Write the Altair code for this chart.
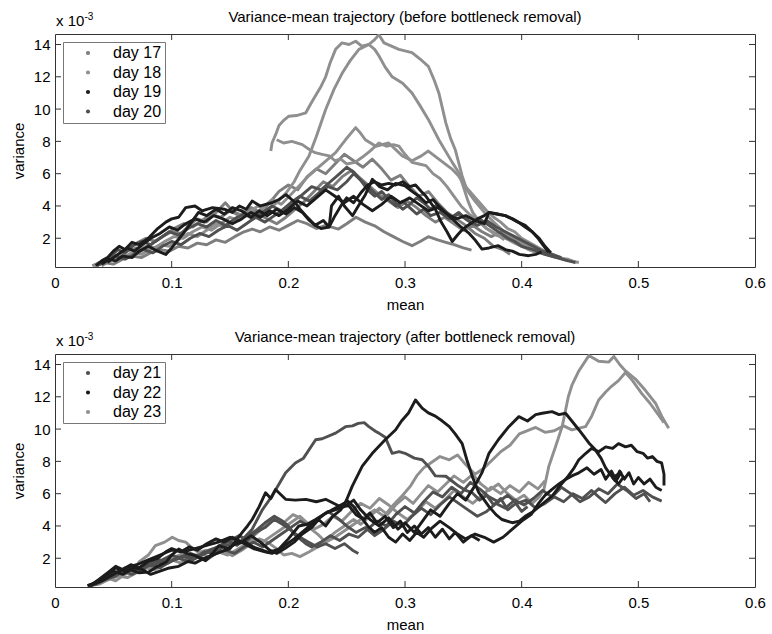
import altair as alt
import pandas as pd

FONT = "Liberation Sans"

# ---------------- axes / labels ----------------
x_tick_values = [0, 0.1, 0.2, 0.3, 0.4, 0.5, 0.6]
y_tick_values = [2, 4, 6, 8, 10, 12, 14]
inner_x_ticks = [0.1, 0.2, 0.3, 0.4, 0.5]
scale_note = ["x 10", "-3"]

titles = ["Variance-mean trajectory (before bottleneck removal)",
          "Variance-mean trajectory (after bottleneck removal)"]

days_before = ["day 17", "day 18", "day 19", "day 20"]
colors_before = ["#7e7e7e", "#8f8f8f", "#1c1c1c", "#505050"]
days_after = ["day 21", "day 22", "day 23"]
colors_after = ["#505050", "#1c1c1c", "#8f8f8f"]

# ---------------- trajectories (mean, variance x 1e-3) : before ----------------
t17a = [(0.032,0.3),(0.038,0.5),(0.045,0.6),(0.05,0.9),(0.056,0.8),(0.062,1.2),(0.07,1.4),(0.078,1.3),(0.085,1.8),(0.092,2.1),(0.1,2.4),(0.108,2.3),(0.115,2.8),(0.122,3.2),(0.13,3.0),(0.138,3.6),(0.146,4.2),(0.152,3.7),(0.16,3.4),(0.168,3.9),(0.176,3.6),(0.184,4.2),(0.192,4.9),(0.2,5.3),(0.208,5.0),(0.216,5.8),(0.224,6.3),(0.232,6.0),(0.24,6.6),(0.248,7.2),(0.256,6.8),(0.264,6.4),(0.272,6.9),(0.28,6.3),(0.288,5.6),(0.296,5.9),(0.304,5.2),(0.312,4.6),(0.32,4.9),(0.328,4.2),(0.336,3.6),(0.344,3.2),(0.352,2.8),(0.36,2.3),(0.368,2.0),(0.376,1.5),(0.384,1.3),(0.39,1.0)]
t17b = [(0.034,0.3),(0.042,0.5),(0.05,0.4),(0.058,0.7),(0.066,0.9),(0.074,0.8),(0.082,1.1),(0.09,1.3),(0.098,1.2),(0.106,1.5),(0.114,1.4),(0.122,1.7),(0.13,1.6),(0.138,1.9),(0.146,1.75),(0.154,2.1),(0.162,2.4),(0.169,2.57),(0.176,2.4),(0.184,2.7),(0.192,2.5),(0.2,2.8),(0.208,3.1),(0.216,2.9),(0.224,2.6),(0.232,2.8),(0.243,2.57),(0.25,2.9),(0.258,3.3),(0.266,3.0),(0.274,2.77),(0.282,2.4),(0.29,2.1),(0.298,1.8),(0.306,1.54),(0.313,1.8),(0.32,2.1),(0.328,1.9),(0.335,1.75),(0.342,1.6),(0.35,1.4),(0.357,1.27)]
t17c = [(0.04,0.3),(0.047,0.6),(0.054,0.9),(0.062,1.3),(0.07,1.7),(0.078,2.0),(0.086,1.8),(0.094,2.2),(0.102,2.6),(0.11,2.9),(0.118,2.7),(0.126,3.1),(0.134,3.5),(0.142,3.3),(0.15,3.7),(0.158,3.4),(0.166,3.8),(0.174,3.5),(0.182,3.2),(0.19,2.9),(0.198,3.3),(0.206,3.8),(0.214,4.3),(0.222,4.9),(0.23,5.5),(0.238,5.2),(0.246,5.8),(0.254,6.2),(0.262,5.7),(0.27,5.2),(0.278,4.7),(0.286,4.3),(0.294,3.9),(0.302,4.3),(0.31,3.9),(0.318,3.4),(0.326,3.0),(0.334,3.3),(0.342,2.9),(0.35,2.5),(0.358,2.8),(0.366,2.4),(0.374,2.1),(0.382,2.4),(0.39,2.0),(0.398,1.7),(0.406,1.3),(0.414,1.1)]
t18a = [(0.185,7.4),(0.186,7.9),(0.189,8.4),(0.192,8.98),(0.196,9.3),(0.2005,9.56),(0.207,9.6),(0.215,9.77),(0.219,10.3),(0.223,10.8),(0.228,11.4),(0.232,12.0),(0.236,12.9),(0.2405,13.7),(0.246,14.1),(0.252,14.0),(0.2577,14.2),(0.263,13.9),(0.269,14.0),(0.274,13.7),(0.2776,13.3),(0.283,12.6),(0.289,12.0),(0.298,11.6),(0.306,11.0),(0.313,10.2),(0.32,9.36),(0.329,8.1),(0.3405,6.7),(0.346,6.07),(0.35,5.2),(0.354,4.3),(0.358,3.6),(0.364,3.0),(0.37,2.6),(0.378,2.3),(0.385,1.9)]
t18b = [(0.033,0.3),(0.04,0.5),(0.047,0.7),(0.055,1.0),(0.062,0.9),(0.07,1.2),(0.078,1.5),(0.086,1.4),(0.094,1.8),(0.102,2.1),(0.11,2.0),(0.118,2.4),(0.126,2.7),(0.134,2.5),(0.142,2.9),(0.15,3.3),(0.158,3.1),(0.166,3.6),(0.174,4.0),(0.182,3.7),(0.19,4.2),(0.198,4.8),(0.205,5.5),(0.21,6.2),(0.2177,7.1),(0.224,8.3),(0.232,9.97),(0.239,11.2),(0.246,12.2),(0.253,13.0),(0.2605,13.7),(0.269,14.0),(0.274,14.3),(0.2776,14.6),(0.282,14.1),(0.2948,13.7),(0.306,13.5),(0.313,13.1),(0.32,12.65),(0.325,11.8),(0.329,11.0),(0.335,9.15),(0.339,8.2),(0.343,7.5),(0.349,5.86),(0.353,5.0),(0.36,4.3),(0.368,3.6),(0.376,3.0),(0.385,2.4),(0.394,2.0),(0.404,1.6),(0.414,1.3),(0.425,1.0),(0.435,0.7),(0.442,0.6),(0.449,0.5)]
t18c = [(0.19,8.1),(0.196,7.9),(0.203,8.0),(0.212,7.8),(0.218,7.5),(0.223,7.3),(0.229,7.2),(0.235,7.1),(0.24,6.8),(0.245,6.9),(0.25,6.6),(0.257,6.7),(0.263,7.0),(0.27,7.4),(0.2776,7.9),(0.284,7.7),(0.29,7.8),(0.2948,7.7),(0.3,7.2),(0.306,6.7),(0.312,6.6),(0.318,6.5),(0.324,6.0),(0.33,5.7),(0.336,5.2),(0.342,4.6),(0.348,4.0),(0.355,3.5),(0.362,3.1),(0.37,2.6),(0.378,2.2),(0.386,2.0),(0.394,1.7),(0.4,1.5),(0.41,1.2),(0.42,1.0),(0.43,0.8),(0.44,0.7),(0.447,0.5)]
t18d = [(0.036,0.3),(0.043,0.6),(0.05,0.9),(0.058,0.8),(0.066,1.1),(0.074,1.0),(0.082,1.3),(0.09,1.6),(0.098,1.5),(0.106,1.9),(0.114,2.3),(0.122,2.1),(0.13,2.5),(0.138,2.9),(0.146,2.7),(0.154,3.2),(0.162,3.6),(0.17,3.4),(0.178,3.9),(0.186,4.4),(0.194,4.1),(0.202,4.7),(0.21,5.3),(0.218,5.9),(0.226,6.4),(0.234,6.9),(0.2405,7.3),(0.249,8.1),(0.2577,8.85),(0.262,8.5),(0.266,8.1),(0.275,7.7),(0.286,7.9),(0.2977,7.1),(0.306,6.8),(0.314,7.1),(0.32,7.4),(0.329,6.9),(0.34,6.3),(0.346,5.85),(0.352,5.2),(0.358,4.7),(0.364,4.2),(0.37,3.7),(0.376,3.3),(0.382,3.0),(0.388,2.6),(0.394,2.4),(0.4,2.0),(0.41,1.6),(0.42,1.2),(0.43,0.9),(0.44,0.6)]
t19a = [(0.035,0.3),(0.04,0.6),(0.045,0.8),(0.05,1.2),(0.055,1.5),(0.06,1.3),(0.066,1.75),(0.072,1.6),(0.08,2.0),(0.088,2.6),(0.095,3.0),(0.1,3.2),(0.106,3.3),(0.112,3.9),(0.12,4.0),(0.126,3.7),(0.135,3.9),(0.145,3.8),(0.152,3.6),(0.158,4.0),(0.164,3.8),(0.169,4.3),(0.176,4.0),(0.186,4.2),(0.192,4.4),(0.198,4.7),(0.206,4.2),(0.21,3.8),(0.215,3.4),(0.223,2.8),(0.23,3.1),(0.235,2.7),(0.24,3.4),(0.245,4.0),(0.25,4.5),(0.256,4.2),(0.262,4.8),(0.268,5.3),(0.274,5.5),(0.28,5.3),(0.286,5.4),(0.292,5.3),(0.298,5.5),(0.304,5.2),(0.309,5.3),(0.314,4.9),(0.318,4.6),(0.322,4.2),(0.326,3.8),(0.331,3.0),(0.336,2.4),(0.3405,1.8),(0.345,2.2),(0.35,2.6),(0.356,2.9),(0.362,3.2),(0.368,3.4),(0.372,3.6),(0.378,3.5),(0.386,3.4),(0.392,3.2),(0.397,3.0),(0.403,2.7),(0.409,2.4),(0.414,2.0),(0.418,1.6),(0.423,1.15)]
t19b = [(0.04,0.4),(0.046,0.7),(0.052,0.6),(0.058,0.9),(0.066,0.8),(0.072,1.2),(0.08,1.5),(0.088,1.2),(0.095,1.0),(0.1,1.4),(0.106,1.95),(0.11,2.3),(0.115,2.8),(0.123,3.6),(0.13,3.4),(0.138,3.8),(0.145,3.5),(0.152,3.9),(0.16,3.7),(0.168,3.3),(0.175,3.7),(0.182,3.4),(0.19,3.8),(0.198,3.5),(0.205,3.9),(0.212,3.6),(0.218,3.1),(0.223,2.8),(0.228,2.6),(0.235,2.7),(0.237,4.0),(0.243,4.6),(0.248,4.0),(0.255,3.4),(0.26,4.0),(0.266,4.7),(0.272,5.65),(0.278,5.2),(0.285,5.0),(0.292,5.4),(0.3,5.25),(0.306,4.9),(0.312,4.6),(0.318,4.2),(0.324,4.4),(0.33,3.9),(0.336,3.5),(0.342,3.1),(0.348,2.7),(0.355,2.3),(0.36,1.9),(0.366,1.33),(0.372,1.4),(0.38,1.54),(0.386,1.3),(0.392,1.2),(0.398,1.0),(0.406,0.92),(0.412,1.0),(0.417,1.15)]
t19c = [(0.045,0.5),(0.05,0.8),(0.056,1.1),(0.062,1.4),(0.068,1.2),(0.075,1.6),(0.082,2.0),(0.09,2.3),(0.098,2.7),(0.105,2.5),(0.112,2.9),(0.12,3.2),(0.128,3.0),(0.136,3.4),(0.144,3.2),(0.152,2.9),(0.16,3.2),(0.168,3.6),(0.176,3.3),(0.184,3.7),(0.192,3.4),(0.2,3.8),(0.208,4.3),(0.216,4.0),(0.224,4.5),(0.232,5.0),(0.24,4.6),(0.248,4.2),(0.256,4.6),(0.264,4.1),(0.272,3.7),(0.28,4.1),(0.288,4.6),(0.296,4.2),(0.304,4.5),(0.312,4.1),(0.32,3.7),(0.328,3.9),(0.336,3.5),(0.344,3.2),(0.352,3.4),(0.36,3.1),(0.368,2.9),(0.372,3.6),(0.38,3.5),(0.386,3.4),(0.392,3.2),(0.397,3.0),(0.403,2.8),(0.409,2.4),(0.415,2.0),(0.42,1.5),(0.425,1.1)]
t20a = [(0.036,0.3),(0.042,0.5),(0.048,0.9),(0.054,1.3),(0.06,1.1),(0.066,1.5),(0.074,1.8),(0.082,1.6),(0.09,2.0),(0.098,2.4),(0.106,2.2),(0.114,2.6),(0.122,2.9),(0.13,2.7),(0.138,3.1),(0.146,2.8),(0.154,3.2),(0.162,3.5),(0.17,3.2),(0.178,3.6),(0.186,4.0),(0.194,3.7),(0.202,4.2),(0.21,4.6),(0.218,4.3),(0.226,4.8),(0.234,5.2),(0.242,5.0),(0.25,5.5),(0.256,6.0),(0.262,5.6),(0.268,5.0),(0.274,4.6),(0.28,4.9),(0.286,4.4),(0.292,4.0),(0.298,4.3),(0.304,3.9),(0.31,3.5),(0.316,3.8),(0.322,3.4),(0.33,3.6),(0.338,3.2),(0.346,3.5),(0.354,3.1),(0.362,2.8),(0.37,3.1),(0.378,2.7),(0.386,2.4),(0.394,2.1),(0.402,1.8),(0.41,1.5),(0.418,1.2),(0.426,1.0),(0.434,0.8)]
t20b = [(0.038,0.4),(0.045,0.6),(0.052,0.9),(0.06,0.7),(0.068,1.0),(0.076,1.3),(0.084,1.1),(0.092,1.5),(0.1,1.8),(0.108,1.6),(0.116,2.0),(0.124,2.3),(0.132,2.1),(0.14,2.5),(0.148,2.8),(0.156,2.5),(0.164,2.9),(0.172,3.3),(0.18,3.0),(0.188,3.4),(0.196,3.8),(0.204,4.2),(0.212,4.7),(0.22,5.2),(0.228,5.0),(0.236,5.5),(0.244,6.0),(0.25,6.4),(0.256,6.1),(0.262,5.6),(0.268,5.2),(0.274,4.8),(0.28,4.4),(0.286,4.7),(0.292,4.2),(0.298,3.8),(0.304,4.1),(0.31,4.5),(0.316,4.2),(0.322,3.8),(0.328,4.1),(0.334,3.7),(0.34,3.3),(0.346,3.6),(0.352,3.2),(0.358,2.9),(0.364,3.2),(0.37,2.9),(0.376,2.6),(0.382,2.3),(0.388,2.0),(0.394,1.8),(0.4,1.5),(0.41,1.3),(0.42,1.0),(0.43,0.8),(0.44,0.6),(0.446,0.5)]

# ---------------- trajectories : after ----------------
b21a = [(0.03,0.3),(0.038,0.6),(0.046,0.9),(0.054,1.2),(0.06,1.1),(0.068,1.5),(0.075,1.3),(0.082,1.7),(0.09,1.9),(0.097,1.7),(0.104,2.0),(0.112,2.2),(0.12,2.0),(0.128,2.4),(0.136,2.3),(0.144,2.7),(0.152,2.9),(0.16,3.1),(0.169,3.8),(0.1777,5.0),(0.186,5.85),(0.1977,7.3),(0.206,7.9),(0.213,8.2),(0.2234,9.34),(0.229,9.4),(0.2405,9.75),(0.249,10.15),(0.255,10.2),(0.26,10.35),(0.265,10.4),(0.269,10.15),(0.275,9.85),(0.2776,9.75),(0.283,9.5),(0.289,8.5),(0.295,8.6),(0.3,8.5),(0.308,8.2),(0.3147,8.1),(0.32,7.7),(0.326,7.1),(0.335,7.08),(0.34,6.8),(0.346,6.47),(0.352,6.2),(0.3576,6.06),(0.364,5.6),(0.37,5.9),(0.376,5.3),(0.382,5.7),(0.388,5.0),(0.395,5.4),(0.4,4.9),(0.405,5.2)]
b21b = [(0.028,0.3),(0.036,0.5),(0.044,0.7),(0.052,0.9),(0.06,1.3),(0.068,1.2),(0.076,1.6),(0.084,1.5),(0.092,1.9),(0.1,2.2),(0.108,2.0),(0.116,2.3),(0.124,2.1),(0.132,2.5),(0.14,2.7),(0.148,3.1),(0.156,2.8),(0.164,3.3),(0.172,3.7),(0.18,4.2),(0.188,4.6),(0.195,4.3),(0.2,4.0),(0.205,3.5),(0.21,3.2),(0.215,2.9),(0.22,2.7),(0.228,3.0),(0.236,3.4),(0.244,3.1),(0.252,3.5),(0.26,3.3),(0.268,3.8),(0.276,4.3),(0.284,4.0),(0.292,4.7),(0.3,5.2),(0.308,4.8),(0.316,5.5),(0.324,6.1),(0.332,5.8),(0.34,6.4),(0.348,6.0),(0.356,6.7),(0.364,6.3),(0.372,5.8),(0.38,5.5),(0.388,5.9),(0.396,5.4),(0.404,5.6),(0.412,5.1),(0.42,5.4),(0.428,5.8),(0.436,5.5),(0.444,6.0),(0.452,5.7),(0.46,6.2),(0.466,5.8),(0.472,5.45),(0.48,6.0),(0.488,6.4),(0.496,5.9),(0.504,6.2),(0.512,5.8),(0.52,5.54)]
b21c = [(0.03,0.3),(0.038,0.5),(0.046,0.8),(0.054,1.1),(0.062,1.4),(0.07,1.2),(0.078,1.5),(0.086,1.8),(0.094,1.6),(0.102,1.9),(0.11,2.1),(0.118,1.9),(0.126,2.2),(0.134,2.5),(0.142,2.8),(0.15,3.1),(0.158,3.4),(0.165,3.1),(0.172,3.6),(0.18,3.9),(0.188,4.4),(0.195,4.1),(0.203,3.7),(0.21,3.3),(0.217,3.0),(0.225,2.7),(0.232,2.9),(0.24,2.6),(0.248,2.9),(0.255,2.5),(0.26,2.3)]
b21d = [(0.028,0.3),(0.035,0.4),(0.043,0.7),(0.05,0.9),(0.058,1.2),(0.066,1.0),(0.074,1.3),(0.082,1.6),(0.09,1.4),(0.098,1.8),(0.106,2.0),(0.114,1.8),(0.122,2.1),(0.13,1.9),(0.138,2.3),(0.146,2.5),(0.154,2.3),(0.162,2.7),(0.17,3.0),(0.178,2.7),(0.186,3.1),(0.194,3.5),(0.202,3.9),(0.21,4.3),(0.218,4.0),(0.226,4.5),(0.234,4.9),(0.242,4.5),(0.25,4.0),(0.258,3.6),(0.266,3.9),(0.274,3.4),(0.282,3.8),(0.29,4.3),(0.298,4.0),(0.306,4.6),(0.314,5.1),(0.322,4.7),(0.33,5.3),(0.338,5.8),(0.346,5.4),(0.354,5.0),(0.362,4.6),(0.37,4.9),(0.378,5.4),(0.386,5.1),(0.394,5.6),(0.402,5.3),(0.41,5.7),(0.418,6.2),(0.426,5.8),(0.434,6.4),(0.442,6.0),(0.45,5.5),(0.458,5.8),(0.466,6.3),(0.474,6.0),(0.482,6.6),(0.49,6.2),(0.498,5.7),(0.505,6.0),(0.51,5.5)]
b22a = [(0.028,0.3),(0.035,0.5),(0.042,0.9),(0.05,1.2),(0.058,1.0),(0.065,1.3),(0.072,1.1),(0.08,1.14),(0.088,1.5),(0.095,1.75),(0.1,2.2),(0.106,2.57),(0.113,2.3),(0.12,2.16),(0.129,1.85),(0.135,2.3),(0.1405,2.78),(0.148,2.6),(0.155,2.9),(0.163,3.0),(0.17,2.7),(0.175,2.57),(0.183,2.37),(0.192,2.57),(0.2,3.2),(0.209,4.0),(0.216,4.1),(0.2234,4.4),(0.23,4.7),(0.2376,5.0),(0.249,5.45),(0.2548,6.47),(0.2634,7.7),(0.272,8.5),(0.283,9.34),(0.292,9.96),(0.297,10.5),(0.303,11.0),(0.309,11.8),(0.3147,11.3),(0.32,11.0),(0.326,10.8),(0.332,10.5),(0.338,10.15),(0.343,9.7),(0.349,9.1),(0.353,8.1),(0.358,7.0),(0.363,6.1),(0.368,5.6),(0.372,5.2),(0.378,4.7),(0.383,4.4),(0.392,4.2),(0.398,4.3),(0.403,4.6),(0.41,4.9),(0.415,5.2),(0.42,5.5),(0.426,5.85),(0.433,6.5),(0.44,7.1),(0.445,7.6),(0.449,8.1),(0.455,8.5),(0.46,8.8),(0.466,8.6),(0.472,8.9),(0.478,8.8),(0.483,9.1),(0.489,8.9),(0.494,9.0),(0.499,8.6),(0.504,8.5),(0.508,8.2),(0.512,8.3),(0.516,8.0),(0.52,7.9),(0.522,7.2),(0.522,6.5)]
b22b = [(0.03,0.3),(0.037,0.6),(0.045,1.0),(0.052,1.4),(0.06,1.2),(0.068,1.4),(0.075,1.3),(0.082,1.0),(0.09,1.2),(0.098,1.4),(0.106,1.5),(0.114,1.8),(0.12,1.7),(0.128,2.0),(0.135,2.2),(0.142,2.4),(0.15,2.6),(0.1605,3.6),(0.165,4.0),(0.169,4.4),(0.175,5.2),(0.1805,6.06),(0.185,5.7),(0.189,6.26),(0.1977,5.65),(0.206,5.6),(0.215,5.65),(0.224,5.5),(0.232,5.65),(0.2434,5.24),(0.252,5.24),(0.258,4.7),(0.265,4.4),(0.27,4.8),(0.276,4.2),(0.283,4.6),(0.29,3.9),(0.296,4.3),(0.302,3.6),(0.308,4.0),(0.314,3.5),(0.32,3.9),(0.326,3.3),(0.332,3.8),(0.338,3.2),(0.343,3.6),(0.35,3.0),(0.357,3.4),(0.364,3.1)]
b22c = [(0.03,0.3),(0.04,0.6),(0.05,1.0),(0.06,1.4),(0.07,1.6),(0.08,1.9),(0.09,2.2),(0.1,2.5),(0.11,2.4),(0.12,2.6),(0.13,2.8),(0.14,3.0),(0.15,3.3),(0.16,3.0),(0.17,2.6),(0.18,2.4),(0.186,2.3),(0.195,2.7),(0.205,3.2),(0.215,3.8),(0.225,4.4),(0.232,4.8),(0.24,5.0),(0.248,5.2),(0.256,5.6),(0.262,5.0),(0.27,4.4),(0.278,4.0),(0.286,4.5),(0.294,3.8),(0.3,4.2),(0.308,3.6),(0.315,4.3),(0.322,5.0),(0.33,4.6),(0.338,5.4),(0.345,6.0),(0.352,5.6),(0.36,6.5),(0.366,7.3),(0.372,8.5),(0.38,9.34),(0.389,10.15),(0.3976,10.77),(0.405,10.5),(0.412,10.9),(0.4176,10.98),(0.426,11.08),(0.432,10.9),(0.4376,10.98),(0.443,10.5),(0.449,9.96),(0.4576,9.14),(0.463,8.73),(0.468,8.2),(0.472,7.6),(0.476,7.2),(0.48,6.8),(0.484,7.4),(0.488,6.9),(0.492,7.3),(0.496,6.6),(0.5,7.0),(0.505,6.6),(0.51,6.9),(0.515,6.4),(0.52,6.2)]
b22d = [(0.03,0.3),(0.038,0.7),(0.045,1.1),(0.052,1.5),(0.058,1.3),(0.065,1.6),(0.072,1.4),(0.08,1.8),(0.088,2.0),(0.095,2.4),(0.1,2.6),(0.108,2.4),(0.115,2.7),(0.122,2.5),(0.13,2.9),(0.138,3.2),(0.145,3.0),(0.152,3.3),(0.16,3.0),(0.168,3.4),(0.176,3.0),(0.184,2.5),(0.19,2.3),(0.197,2.6),(0.205,3.0),(0.212,3.5),(0.22,3.9),(0.226,4.4),(0.232,4.0),(0.238,4.6),(0.245,5.0),(0.25,5.6),(0.256,5.2),(0.262,4.6),(0.268,4.0),(0.274,3.6),(0.28,3.9),(0.286,3.3),(0.292,3.0),(0.298,3.5),(0.304,3.1),(0.31,3.6),(0.316,3.3),(0.322,3.8),(0.33,4.3),(0.338,3.9),(0.345,3.5),(0.352,3.2),(0.36,3.5),(0.368,3.3),(0.376,3.0),(0.384,3.3),(0.392,3.8),(0.4,4.3),(0.408,4.7),(0.415,5.45),(0.42,5.9),(0.426,6.26),(0.432,6.6),(0.4376,6.88),(0.443,7.1),(0.449,7.29),(0.456,7.6),(0.462,7.2),(0.468,7.5),(0.472,6.9),(0.477,7.4),(0.481,6.8),(0.485,7.3),(0.478,7.0),(0.483,6.6),(0.488,7.1)]
b23a = [(0.028,0.3),(0.036,0.4),(0.044,0.8),(0.052,0.6),(0.06,1.0),(0.068,1.3),(0.072,1.77),(0.08,2.2),(0.086,2.78),(0.094,3.0),(0.1005,3.3),(0.106,3.1),(0.112,3.0),(0.118,2.6),(0.123,2.37),(0.13,2.5),(0.138,2.3),(0.145,2.4),(0.152,2.16),(0.16,2.5),(0.168,2.9),(0.175,3.2),(0.182,3.0),(0.19,2.6),(0.196,2.2),(0.203,2.3),(0.21,2.1),(0.218,2.4),(0.225,2.7),(0.232,3.1),(0.24,3.6),(0.248,4.0),(0.256,4.4),(0.262,4.1),(0.27,4.6),(0.278,5.1),(0.285,4.7),(0.292,5.3),(0.3,5.8),(0.307,5.4),(0.314,6.0),(0.32,6.5),(0.328,6.1),(0.335,6.6),(0.342,7.1),(0.35,6.7),(0.358,7.2),(0.365,6.6),(0.372,6.2),(0.38,6.6),(0.388,6.0),(0.395,5.6),(0.402,5.9),(0.409,5.4),(0.415,5.8),(0.419,6.25),(0.4233,7.7),(0.429,8.9),(0.4347,10.15),(0.44,12.0),(0.443,12.7),(0.449,13.6),(0.4576,14.55),(0.466,14.2),(0.4747,14.15),(0.479,14.5),(0.484,14.0),(0.489,13.6),(0.4975,13.1),(0.506,12.4),(0.5147,11.6),(0.52,10.8),(0.526,10.05)]
b23b = [(0.03,0.3),(0.04,0.5),(0.05,0.8),(0.06,1.1),(0.07,1.3),(0.08,1.6),(0.09,1.8),(0.1,2.0),(0.11,2.3),(0.12,2.1),(0.13,2.4),(0.14,2.7),(0.15,3.0),(0.158,3.4),(0.165,3.1),(0.172,3.5),(0.18,4.0),(0.188,4.5),(0.196,4.2),(0.204,4.7),(0.21,4.5),(0.218,3.9),(0.225,3.5),(0.232,3.0),(0.24,3.3),(0.25,3.8),(0.258,4.2),(0.266,4.6),(0.274,5.0),(0.282,4.6),(0.29,5.3),(0.298,5.9),(0.305,6.5),(0.31,7.1),(0.316,7.6),(0.322,7.9),(0.33,8.3),(0.338,8.1),(0.345,8.4),(0.352,7.8),(0.36,7.2),(0.368,7.6),(0.375,8.1),(0.382,8.6),(0.39,9.0),(0.398,9.7),(0.405,9.9),(0.412,10.1),(0.42,9.8),(0.428,9.9),(0.436,10.2),(0.443,9.95),(0.4547,10.15),(0.46,10.8),(0.466,11.8),(0.472,12.3),(0.477,12.65),(0.483,13.0),(0.489,13.5),(0.495,13.0),(0.503,12.2),(0.51,11.6),(0.516,11.0),(0.522,10.4)]
b23c = [(0.03,0.3),(0.038,0.4),(0.046,0.7),(0.054,0.9),(0.062,0.8),(0.07,1.1),(0.078,1.4),(0.086,1.3),(0.094,1.6),(0.1,1.9),(0.108,1.7),(0.116,2.0),(0.124,2.3),(0.132,2.1),(0.14,2.4),(0.148,2.2),(0.155,2.5),(0.162,2.8),(0.17,3.2),(0.178,3.0),(0.186,3.4),(0.194,3.8),(0.202,4.2),(0.21,4.6),(0.216,4.2),(0.222,3.8),(0.23,4.1),(0.238,4.6),(0.246,4.3),(0.254,4.9),(0.262,5.4),(0.27,5.1),(0.278,5.7),(0.286,5.3),(0.294,4.8),(0.302,4.4),(0.31,4.9),(0.318,5.5),(0.326,5.1),(0.334,5.6),(0.342,6.2),(0.35,5.8),(0.358,5.4),(0.366,5.9),(0.374,6.4),(0.382,6.0),(0.39,6.5),(0.398,6.1),(0.406,6.7),(0.414,6.3),(0.42,6.8)]

before = [("day 17", "t17a", t17a), ("day 17", "t17b", t17b), ("day 17", "t17c", t17c),
          ("day 18", "t18a", t18a), ("day 18", "t18b", t18b), ("day 18", "t18c", t18c), ("day 18", "t18d", t18d),
          ("day 20", "t20a", t20a), ("day 20", "t20b", t20b),
          ("day 19", "t19a", t19a), ("day 19", "t19b", t19b), ("day 19", "t19c", t19c)]
after = [("day 23", "b23a", b23a), ("day 23", "b23b", b23b), ("day 23", "b23c", b23c),
         ("day 21", "b21a", b21a), ("day 21", "b21b", b21b), ("day 21", "b21c", b21c), ("day 21", "b21d", b21d),
         ("day 22", "b22a", b22a), ("day 22", "b22b", b22b), ("day 22", "b22c", b22c), ("day 22", "b22d", b22d)]


def to_frame(trajs):
    rows = []
    for day, name, pts in trajs:
        for i, (m, v) in enumerate(pts):
            rows.append({"day": day, "traj": name, "i": i, "mean": m, "var": v})
    return pd.DataFrame(rows)


W, H = 700, 233
XDOM = [0, 0.6]
YDOM = [0.22, 14.65]
FRAME = "#333333"
TICK = 6
FS = 15


def panel(trajs, days, colors, title):
    df = to_frame(trajs)
    xs = alt.Scale(domain=XDOM, nice=False, zero=False)
    ys = alt.Scale(domain=YDOM, nice=False, zero=False)
    x_axis = alt.Axis(
        values=x_tick_values, title="mean", labelFlush=False, labelOverlap=False,
        labelExpr="datum.value == 0 ? '0' : format(datum.value, '.1f')",
        labelPadding=8, titleX=W / 2, titleY=42, titleBaseline="alphabetic")
    y_axis = alt.Axis(
        values=y_tick_values, title="variance", labelFlush=False, labelOverlap=False,
        labelPadding=5, titleX=-37, titleY=H / 2, titleBaseline="middle", titleAngle=-90)
    x = alt.X("mean:Q", scale=xs, axis=x_axis)
    y = alt.Y("var:Q", scale=ys, axis=y_axis)
    lines = alt.Chart(df).mark_line(strokeWidth=2.9, clip=True, strokeJoin="round").encode(
        x=x, y=y,
        color=alt.Color("day:N", sort=days, scale=alt.Scale(domain=days, range=colors),
                        legend=alt.Legend(title=None, orient="top-left", offset=8, padding=3,
                                          rowPadding=3.5, symbolOffset=14, labelOffset=17,
                                          labelFontSize=16, labelFont=FONT, labelColor="black",
                                          strokeColor="#777777", fillColor="white",
                                          symbolType="circle", symbolSize=4, symbolStrokeWidth=2.2,
                                          labelExpr="datum.label + '      '")),
        detail="traj:N", order="i:Q")
    xt = pd.DataFrame({"mean": inner_x_ticks})
    yt = pd.DataFrame({"var": y_tick_values})
    tick_top = alt.Chart(xt).mark_rule(color=FRAME).encode(x=alt.X("mean:Q", scale=xs, axis=x_axis), y=alt.value(0), y2=alt.value(TICK))
    tick_bot = alt.Chart(xt).mark_rule(color=FRAME).encode(x=alt.X("mean:Q", scale=xs, axis=x_axis), y=alt.value(H), y2=alt.value(H - TICK))
    tick_l = alt.Chart(yt).mark_rule(color=FRAME).encode(y=alt.Y("var:Q", scale=ys, axis=y_axis), x=alt.value(0), x2=alt.value(TICK))
    tick_r = alt.Chart(yt).mark_rule(color=FRAME).encode(y=alt.Y("var:Q", scale=ys, axis=y_axis), x=alt.value(W), x2=alt.value(W - TICK))
    note = pd.DataFrame({"a": [scale_note[0]], "b": [scale_note[1]], "t": [title]})
    t1 = alt.Chart(note).mark_text(align="left", baseline="alphabetic", font=FONT, fontSize=FS, color="black").encode(
        text="a:N", x=alt.value(1), y=alt.value(-8.3))
    t2 = alt.Chart(note).mark_text(align="left", baseline="alphabetic", font=FONT, fontSize=10, color="black").encode(
        text="b:N", x=alt.value(29.5), y=alt.value(-14.3))
    t3 = alt.Chart(note).mark_text(align="center", baseline="alphabetic", font=FONT, fontSize=FS, color="black").encode(
        text="t:N", x=alt.value(W / 2), y=alt.value(-12.3))
    return alt.layer(lines, tick_top, tick_bot, tick_l, tick_r, t1, t2, t3).properties(width=W, height=H)


top = panel(before, days_before, colors_before, titles[0])
bottom = panel(after, days_after, colors_after, titles[1])

chart = alt.vconcat(top, bottom, spacing=87, bounds="flush").resolve_scale(
    color="independent", x="independent", y="independent").properties(
    autosize=alt.AutoSizeParams(type="pad"),
    padding={"left": 10, "top": 9, "right": 6, "bottom": 3},
    background="white").configure_view(stroke=FRAME, strokeWidth=1).configure_axis(
    domain=False, ticks=False, grid=False, labelFont=FONT, labelFontSize=FS, labelColor="black",
    labelOverlap=False, titleFont=FONT, titleFontSize=FS, titleFontWeight="normal", titleColor="black")

chart.save("out.html", embed_options={"renderer": "svg", "actions": False})
